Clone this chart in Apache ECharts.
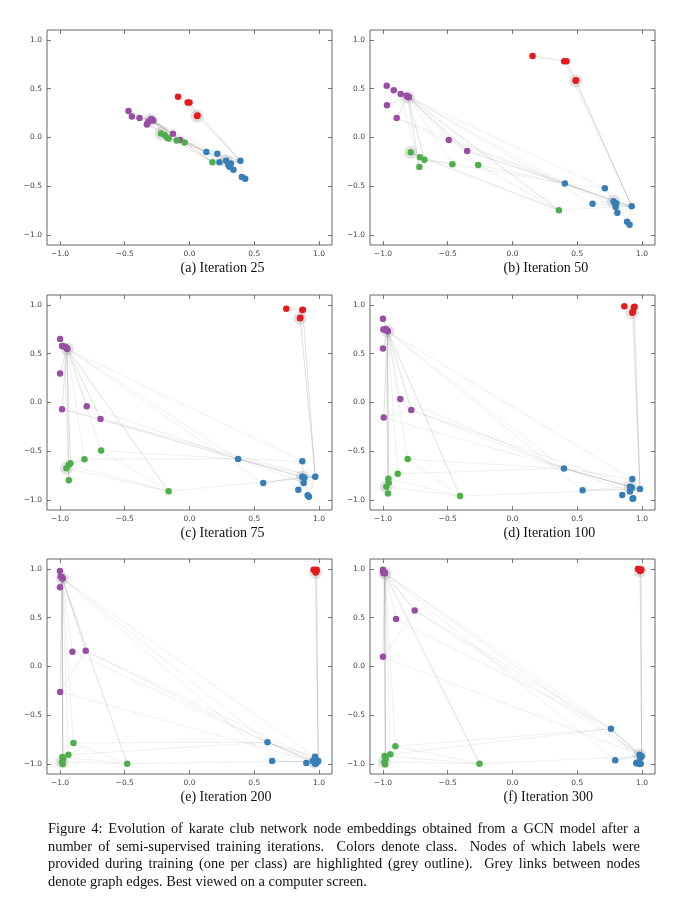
<!DOCTYPE html>
<html>
<head>
<meta charset="utf-8">
<script src="https://cdn.jsdelivr.net/npm/echarts@6/dist/echarts.min.js"></script>
<style>
html,body{margin:0;padding:0;background:#fff;}
#chart{width:688px;height:908px;position:absolute;left:0;top:0;}
#cap{position:absolute;left:48px;top:820px;width:592px;font-family:'Liberation Serif','Times New Roman',serif;font-size:14.4px;line-height:17.7px;color:#111;}
#cap div.j{text-align:justify;text-align-last:justify;white-space:nowrap;}
</style>
</head>
<body>
<div id="chart"></div>
<div id="cap">
<div class="j">Figure 4: Evolution of karate club network node embeddings obtained from a GCN model after a</div>
<div class="j">number of semi-supervised training iterations.&nbsp; Colors denote class.&nbsp; Nodes of which labels were</div>
<div class="j">provided during training (one per class) are highlighted (grey outline).&nbsp; Grey links between nodes</div>
<div>denote graph edges. Best viewed on a computer screen.</div>
</div>
<script>
// ---- data ----
const TICKS = [-1.0, -0.5, 0.0, 0.5, 1.0];
const PANEL_TITLES = ['(a) Iteration 25', '(b) Iteration 50', '(c) Iteration 75', '(d) Iteration 100', '(e) Iteration 200', '(f) Iteration 300'];
// node ids per class (first entry = labeled node)
const RED_NODES = [4, 10, 5, 6, 16];
const PURPLE_NODES = [33, 32, 14, 15, 26, 18, 20, 22, 30, 9, 8];
const GREEN_NODES = [25, 24, 23, 27, 28, 29, 31];
const BLUE_NODES = [1, 0, 2, 3, 7, 11, 12, 13, 17, 19, 21];
// karate club graph edges
const EDGES = [[0,1],[0,2],[0,3],[0,4],[0,5],[0,6],[0,7],[0,8],[0,10],[0,11],[0,12],[0,13],[0,17],[0,19],[0,21],[0,31],
[1,2],[1,3],[1,7],[1,13],[1,17],[1,19],[1,21],[1,30],[2,3],[2,7],[2,8],[2,9],[2,13],[2,27],[2,28],[2,32],[3,7],[3,12],[3,13],
[4,6],[4,10],[5,6],[5,10],[5,16],[6,16],[8,30],[8,32],[8,33],[9,33],[13,33],[14,32],[14,33],[15,32],[15,33],[18,32],[18,33],
[19,33],[20,32],[20,33],[22,32],[22,33],[23,25],[23,27],[23,29],[23,32],[23,33],[24,25],[24,27],[24,31],[25,31],[26,29],[26,33],
[27,33],[28,31],[28,33],[29,32],[29,33],[30,32],[30,33],[31,32],[31,33],[32,33]];

// Iteration 25
const A_RED = [[0.058,0.219],[0.062,0.224],[-0.014,0.359],[0.0,0.359],[-0.089,0.417]];
const A_PURPLE = [[-0.300,0.182],[-0.280,0.175],[-0.471,0.271],[-0.445,0.216],[-0.386,0.199],[-0.318,0.161],[-0.295,0.190],[-0.290,0.178],[-0.329,0.134],[-0.128,0.039],[-0.073,-0.026]];
const A_GREEN = [[-0.220,0.042],[-0.192,0.025],[-0.174,-0.002],[-0.099,-0.030],[-0.037,-0.050],[-0.161,-0.009],[0.177,-0.252]];
const A_BLUE = [[0.283,-0.238],[0.393,-0.238],[0.130,-0.149],[0.319,-0.265],[0.308,-0.299],[0.404,-0.405],[0.430,-0.422],[0.215,-0.166],[0.339,-0.330],[0.231,-0.252],[0.300,-0.280]];
// Iteration 50
const B_RED = [[0.487,0.580],[0.490,0.585],[0.399,0.780],[0.417,0.780],[0.155,0.835]];
const B_PURPLE = [[-0.804,0.413],[-0.817,0.427],[-0.971,0.529],[-0.917,0.484],[-0.863,0.444],[-0.810,0.420],[-0.800,0.415],[-0.969,0.331],[-0.894,0.199],[-0.492,-0.026],[-0.350,-0.138]];
const B_GREEN = [[-0.786,-0.152],[-0.714,-0.203],[-0.680,-0.227],[-0.464,-0.274],[-0.265,-0.281],[-0.719,-0.301],[0.358,-0.744]];
const B_BLUE = [[0.780,-0.652],[0.920,-0.703],[0.404,-0.471],[0.801,-0.676],[0.796,-0.710],[0.884,-0.863],[0.904,-0.893],[0.713,-0.519],[0.809,-0.771],[0.618,-0.679],[0.790,-0.670]];
// Iteration 75
const C_RED = [[0.853,0.861],[0.855,0.866],[0.871,0.946],[0.875,0.950],[0.747,0.960]];
const C_PURPLE = [[-0.943,0.547],[-0.950,0.560],[-0.999,0.649],[-0.984,0.577],[-0.966,0.574],[-0.955,0.565],[-0.945,0.553],[-0.999,0.297],[-0.984,-0.068],[-0.793,-0.038],[-0.687,-0.168]];
const C_GREEN = [[-0.950,-0.673],[-0.932,-0.636],[-0.919,-0.622],[-0.811,-0.581],[-0.682,-0.492],[-0.932,-0.796],[-0.161,-0.909]];
const C_BLUE = [[0.871,-0.759],[0.971,-0.759],[0.375,-0.577],[0.886,-0.772],[0.881,-0.823],[0.912,-0.950],[0.922,-0.964],[0.871,-0.601],[0.840,-0.892],[0.569,-0.823],[0.878,-0.765]];
// Iteration 100
const D_RED = [[0.925,0.919],[0.930,0.930],[0.938,0.974],[0.942,0.980],[0.863,0.984]];
const D_PURPLE = [[-0.963,0.728],[-0.966,0.735],[-1.000,0.858],[-0.997,0.746],[-0.979,0.753],[-0.970,0.740],[-0.965,0.732],[-1.000,0.552],[-0.994,-0.153],[-0.866,0.037],[-0.781,-0.078]];
const D_GREEN = [[-0.974,-0.862],[-0.958,-0.780],[-0.956,-0.821],[-0.886,-0.729],[-0.809,-0.579],[-0.961,-0.930],[-0.405,-0.957]];
const D_BLUE = [[0.907,-0.862],[0.984,-0.886],[0.397,-0.675],[0.920,-0.869],[0.907,-0.910],[0.927,-0.984],[0.932,-0.980],[0.925,-0.784],[0.847,-0.947],[0.541,-0.899],[0.915,-0.875]];
// Iteration 200
const E_RED = [[0.974,0.963],[0.980,0.975],[0.981,0.990],[0.970,0.985],[0.958,0.990]];
const E_PURPLE = [[-0.981,0.902],[-0.985,0.910],[-1.000,0.977],[-0.994,0.919],[-0.987,0.915],[-0.983,0.905],[-0.979,0.900],[-1.000,0.810],[-0.999,-0.260],[-0.904,0.150],[-0.801,0.160]];
const E_GREEN = [[-0.984,-0.977],[-0.981,-0.926],[-0.976,-0.950],[-0.935,-0.902],[-0.896,-0.782],[-0.979,-0.998],[-0.481,-0.994]];
const E_BLUE = [[0.965,-0.975],[0.994,-0.967],[0.602,-0.776],[0.953,-0.967],[0.969,-0.994],[0.975,-0.990],[0.980,-0.985],[0.969,-0.923],[0.902,-0.988],[0.638,-0.967],[0.960,-0.970]];
// Iteration 300
const F_RED = [[0.984,0.977],[0.990,0.985],[0.994,0.991],[0.985,0.995],[0.969,0.998]];
const F_PURPLE = [[-0.984,0.953],[-0.990,0.960],[-1.000,0.991],[-0.997,0.970],[-0.990,0.965],[-0.987,0.960],[-0.985,0.957],[-0.995,0.955],[-1.000,0.099],[-0.899,0.485],[-0.755,0.574]];
const F_GREEN = [[-0.989,-0.977],[-0.987,-0.916],[-0.979,-0.943],[-0.943,-0.899],[-0.904,-0.817],[-0.984,-1.000],[-0.255,-0.994]];
const F_BLUE = [[0.981,-0.902],[0.997,-0.919],[0.760,-0.636],[0.987,-0.933],[0.981,-0.998],[0.956,-0.991],[0.990,-0.995],[0.985,-0.910],[0.960,-0.985],[0.793,-0.960],[0.985,-0.920]];

const PANELS = [
  [A_RED, A_PURPLE, A_GREEN, A_BLUE],
  [B_RED, B_PURPLE, B_GREEN, B_BLUE],
  [C_RED, C_PURPLE, C_GREEN, C_BLUE],
  [D_RED, D_PURPLE, D_GREEN, D_BLUE],
  [E_RED, E_PURPLE, E_GREEN, E_BLUE],
  [F_RED, F_PURPLE, F_GREEN, F_BLUE]
];
const CLASS_NODES = [RED_NODES, PURPLE_NODES, GREEN_NODES, BLUE_NODES];
const CLASS_COLORS = ['#e41a1c', '#984ea3', '#4daf4a', '#377eb8'];

// ---- layout ----
const GRIDS = [
  {left: 47, top: 30}, {left: 370, top: 30},
  {left: 47, top: 295}, {left: 370, top: 295},
  {left: 47, top: 559}, {left: 370, top: 559}
];
const GW = 285, GH = 215;
const fmt = v => (v < 0 ? '\u2212' : '') + Math.abs(v).toFixed(1);

const grid = [], xAxis = [], yAxis = [], series = [], graphic = [];
PANELS.forEach((panel, i) => {
  const g = GRIDS[i];
  grid.push({left: g.left, top: g.top, width: GW, height: GH, show: true, borderColor: '#666', borderWidth: 1, backgroundColor: 'transparent'});
  const tickCommon = {show: true, inside: true, length: 4, lineStyle: {color: '#555', width: 0.8}, customValues: TICKS};
  const labelCommon = {customValues: TICKS, formatter: fmt, fontSize: 7.5, color: '#444', fontFamily: 'DejaVu Sans'};
  const line = {show: false, onZero: false};
  xAxis.push({type: 'value', gridIndex: i, min: -1.1, max: 1.1, position: 'bottom', axisLine: line, splitLine: {show: false}, axisTick: tickCommon, axisLabel: Object.assign({margin: 5}, labelCommon)});
  xAxis.push({type: 'value', gridIndex: i, min: -1.1, max: 1.1, position: 'top', axisLine: line, splitLine: {show: false}, axisTick: tickCommon, axisLabel: {show: false}});
  yAxis.push({type: 'value', gridIndex: i, min: -1.1, max: 1.1, position: 'left', axisLine: line, splitLine: {show: false}, axisTick: tickCommon, axisLabel: Object.assign({margin: 5}, labelCommon)});
  yAxis.push({type: 'value', gridIndex: i, min: -1.1, max: 1.1, position: 'right', axisLine: line, splitLine: {show: false}, axisTick: tickCommon, axisLabel: {show: false}});
  const xi = 2 * i, yi = 2 * i;
  // node positions
  const pos = {};
  panel.forEach((pts, c) => pts.forEach((p, k) => { pos[CLASS_NODES[c][k]] = p; }));
  series.push({
    type: 'lines', coordinateSystem: 'cartesian2d', xAxisIndex: xi, yAxisIndex: yi, silent: true,
    lineStyle: {color: '#000', opacity: 0.08, width: 0.9},
    data: EDGES.map(([a, b]) => ({coords: [pos[a], pos[b]]})), z: 1
  });
  series.push({
    type: 'scatter', xAxisIndex: xi, yAxisIndex: yi, symbolSize: 13, silent: true,
    itemStyle: {color: 'rgba(150,150,150,0.35)'},
    data: panel.map(pts => pts[0]), z: 2
  });
  panel.forEach((pts, c) => {
    series.push({
      type: 'scatter', xAxisIndex: xi, yAxisIndex: yi, symbolSize: 6.5, silent: true,
      itemStyle: {color: CLASS_COLORS[c], opacity: 1},
      data: pts, z: 3
    });
  });
  graphic.push({
    type: 'text', left: g.left + GW / 2 - 9, top: g.top + GH + 16,
    style: {text: PANEL_TITLES[i], font: '14px "Liberation Serif", serif', fill: '#111', textAlign: 'center'}
  });
});

const chart = echarts.init(document.getElementById('chart'), null, {renderer: 'canvas'});
chart.setOption({animation: false, grid, xAxis, yAxis, series, graphic});
</script>
</body>
</html>
